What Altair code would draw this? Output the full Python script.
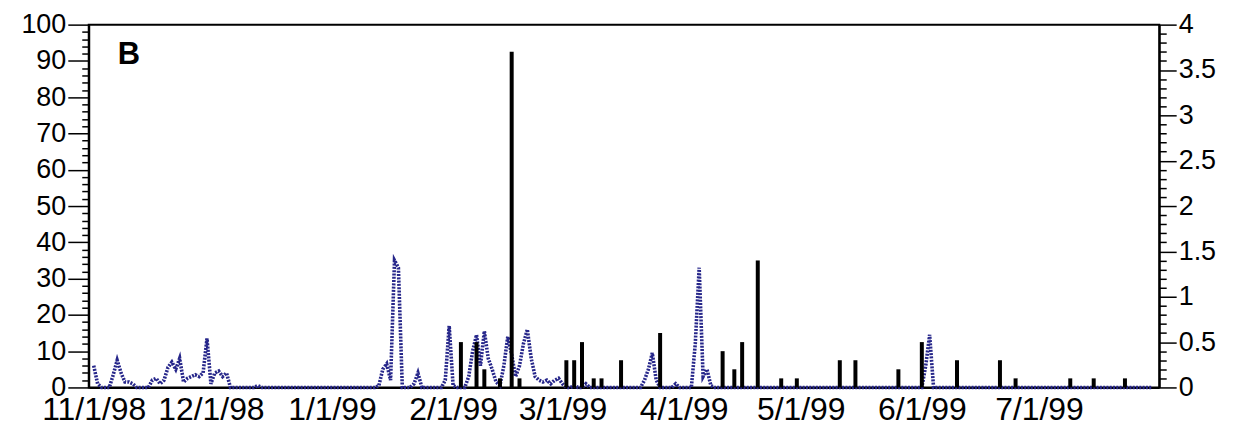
import altair as alt
import pandas as pd

# ---- Daily values for the dotted blue series (left axis, 0-100) ----
nov_1998 = [6, 1, 0, 0, 0, 3.5, 7.5, 4, 1.5, 1.5, 1, 0, 0, 0, 0, 2, 2.5, 1, 2, 5.5,
            7, 5, 8, 1.5, 2.5, 3, 3.5, 3, 4, 13.5]
dec_1998 = [1, 4, 4.5, 3, 4, 0, 0, 0, 0, 0, 0, 0, 0.5, 0, 0, 0, 0, 0, 0, 0,
            0, 0, 0, 0, 0, 0, 0, 0, 0, 0, 0]
jan_1999 = [0, 0, 0, 0, 0, 0, 0, 0, 0, 0, 0, 0, 0.5, 5, 6.5, 2, 35, 33, 0, 0,
            0, 1, 4, 0, 0, 0, 0, 0, 0, 2, 17]
feb_1999 = [0.5, 0, 0, 0, 3, 10, 14.5, 6, 15.5, 8, 5, 1.5, 0.5, 6, 14, 9, 3, 6, 12, 16,
            8, 3, 2, 1.5, 2, 1, 2, 2.5]
mar_1999 = [1, 0, 0, 0.5, 0, 0, 1, 0, 0, 0, 0, 0, 0, 0, 0, 0, 0, 0, 0, 0,
            0, 2, 5, 9.5, 2, 0, 0, 0, 0, 1, 0]
apr_1999 = [0, 0, 0, 12, 33, 3, 5, 0.5, 0, 0, 0, 0, 0, 0, 0, 0, 0, 0, 0, 0,
            0, 0, 0, 0, 0, 0, 0, 0, 0, 0]
may_1999 = [0] * 31
jun_1999 = [0, 6, 14.5, 0, 0, 0, 0, 0, 0, 0, 0, 0, 0, 0, 0, 0, 0, 0, 0, 0,
            0, 0, 0, 0, 0, 0, 0, 0, 0, 0]
jul_1999 = [0] * 30

# ---- Black bars (right axis, 0-4) ----
bar_dates = ["1999-02-03", "1999-02-07", "1999-02-09", "1999-02-13", "1999-02-16",
             "1999-02-18", "1999-03-02", "1999-03-04", "1999-03-06", "1999-03-09",
             "1999-03-11", "1999-03-16", "1999-03-26", "1999-04-11", "1999-04-14",
             "1999-04-16", "1999-04-20", "1999-04-26", "1999-04-30", "1999-05-11",
             "1999-05-15", "1999-05-26", "1999-06-01", "1999-06-10", "1999-06-21",
             "1999-06-25", "1999-07-09", "1999-07-15", "1999-07-23"]
bar_values = [0.5, 0.5, 0.2, 0.1, 3.7,
              0.1, 0.3, 0.3, 0.5, 0.1,
              0.1, 0.3, 0.6, 0.4, 0.2,
              0.5, 1.4, 0.1, 0.1, 0.3,
              0.3, 0.2, 0.5, 0.3, 0.3,
              0.1, 0.1, 0.1, 0.1]

# ---- Axis tick labels ----
month_ticks = [(1998, 11), (1998, 12), (1999, 1), (1999, 2), (1999, 3),
               (1999, 4), (1999, 5), (1999, 6), (1999, 7)]
left_ticks = list(range(0, 101, 2))
right_ticks = [round(i * 0.1, 1) for i in range(41)]
panel_label = "B"

daily = (nov_1998 + dec_1998 + jan_1999 + feb_1999 + mar_1999 + apr_1999
         + may_1999 + jun_1999 + jul_1999)
line_df = pd.DataFrame({
    "date": pd.date_range("1998-11-01", periods=len(daily), freq="D").strftime("%Y-%m-%d"),
    "value": daily,
})
bar_df = pd.DataFrame({"date": bar_dates, "value": bar_values})

FONT = "Liberation Sans"

x_scale = alt.Scale(
    type="utc",
    domain=[alt.DateTime(year=1998, month=11, date=1, utc=True),
            alt.DateTime(year=1999, month=7, date=30, hours=12, utc=True)],
)
x_axis = alt.Axis(
    values=[alt.DateTime(year=y, month=m, date=1, utc=True) for y, m in month_ticks],
    labelExpr="utcFormat(datum.value, '%-m/%-d/%y')",
    labelFlush=False, labelOverlap=False,
    ticks=False, grid=False, title=None, domainColor="black", domainWidth=2,
    labelFont=FONT, labelFontSize=32, labelColor="black", labelPadding=7,
)

line = alt.Chart(line_df).mark_line(
    color="#26268a", strokeWidth=3.6, strokeDash=[2, 1.3], strokeCap="butt"
).encode(
    x=alt.X("date:T", scale=x_scale, axis=x_axis),
    y=alt.Y("value:Q", scale=alt.Scale(domain=[0, 100], nice=False),
            axis=alt.Axis(
                orient="left", values=left_ticks, title=None, grid=False,
                labelExpr="datum.value % 10 === 0 ? datum.label : ''",
                tickSize={"condition": {"test": "datum.value % 10 === 0", "value": 21}, "value": 7},
                tickColor="black", tickWidth=1.5, domainColor="black", domainWidth=2,
                labelFont=FONT, labelFontSize=27, labelColor="black", labelPadding=2,
                labelOverlap=False,
            )),
)

bars = alt.Chart(bar_df).mark_bar(color="black", size=4).encode(
    x=alt.X("date:T", scale=x_scale, axis=x_axis),
    y=alt.Y("value:Q", scale=alt.Scale(domain=[0, 4], nice=False),
            axis=alt.Axis(
                orient="right", values=right_ticks, title=None, grid=False,
                labelExpr="abs(datum.value * 2 - round(datum.value * 2)) < 0.001 ? '' + datum.value : ''",
                tickSize={"condition": {"test": "abs(datum.value * 2 - round(datum.value * 2)) < 0.001", "value": 17}, "value": 7},
                tickColor="black", tickWidth=1.5, domainColor="black", domainWidth=2,
                labelFont=FONT, labelFontSize=27, labelColor="black", labelPadding=2,
                labelOverlap=False,
            )),
)

label = alt.Chart(pd.DataFrame({"t": [panel_label]})).mark_text(
    font=FONT, fontWeight="bold", fontSize=31, align="left", baseline="alphabetic", color="black"
).encode(x=alt.value(29), y=alt.value(39), text="t:N")

chart = alt.layer(line, bars, label).resolve_scale(y="independent").properties(
    width=1074, height=364,
    autosize=alt.AutoSizeParams(type="none"),
    padding={"left": 81, "top": 16, "right": 71, "bottom": 38},
    background="white",
).configure_view(stroke="black", strokeWidth=2)

chart.save("out.html", embed_options={"renderer": "svg", "actions": False})
